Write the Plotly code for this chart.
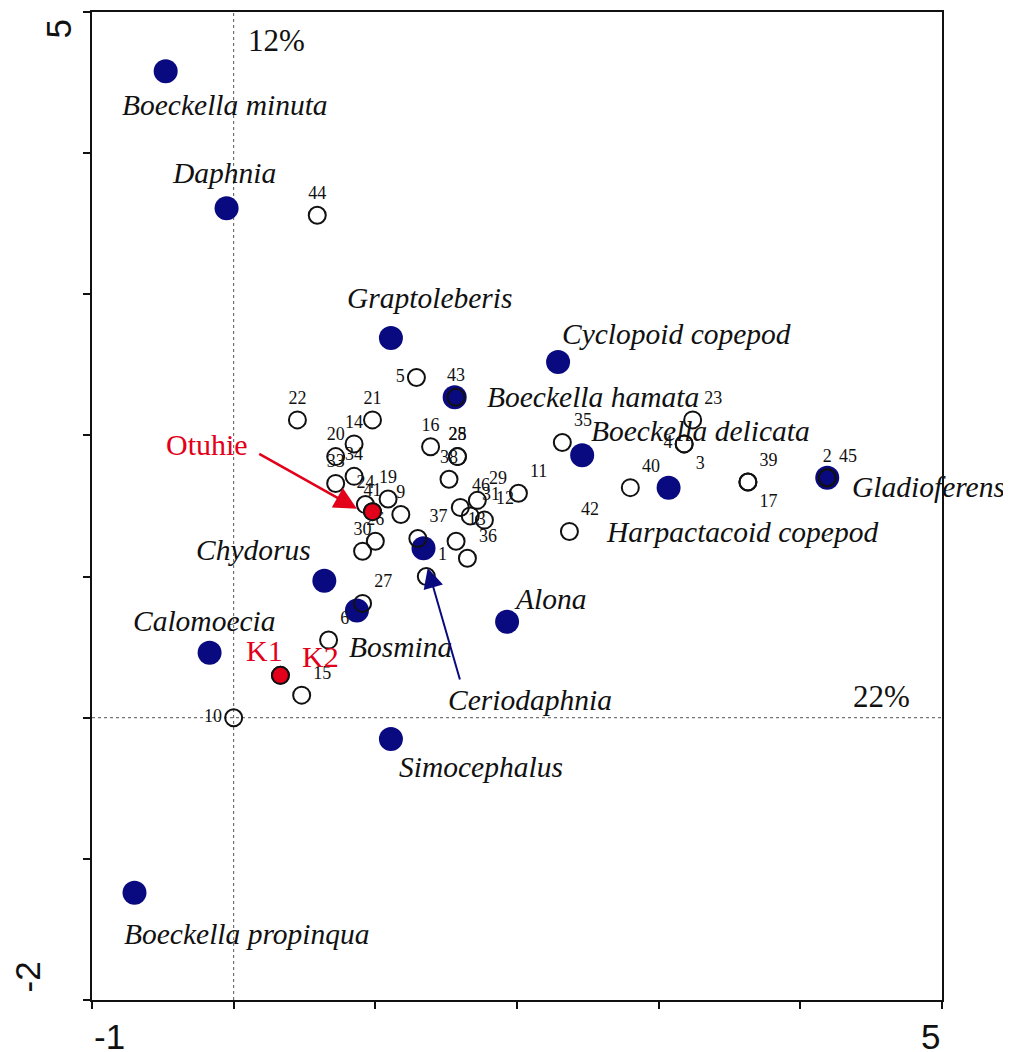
import plotly.graph_objects as go

# ---------------- data ----------------
species_names = ["Boeckella minuta", "Daphnia", "Graptoleberis", "Cyclopoid copepod",
                 "Boeckella hamata", "Boeckella delicata", "Harpactacoid copepod",
                 "Gladioferens", "Ceriodaphnia", "Chydorus", "Bosmina", "Alona",
                 "Calomoecia", "Simocephalus", "Boeckella propinqua"]
species_x = [-0.48, -0.05, 1.11, 2.29, 1.56, 2.46, 3.07, 4.19, 1.34, 0.64, 0.87, 1.93, -0.17, 1.11, -0.70]
species_y = [4.58, 3.61, 2.69, 2.52, 2.27, 1.86, 1.63, 1.70, 1.20, 0.97, 0.76, 0.68, 0.46, -0.15, -1.24]

site_labels = ["1", "2", "3", "4", "5", "6", "9", "10", "11", "12", "13", "14", "15", "16",
               "17", "19", "20", "21", "22", "23", "24", "25", "26", "27", "28", "29", "30",
               "31", "33", "34", "35", "36", "37", "38", "39", "40", "41", "42", "43", "44",
               "45", "46"]
site_x = [1.36, 4.19, 3.18, 3.18, 1.29, 0.67, 1.18, 0.00, 2.01, 1.77, 1.57, 0.85, 0.48, 1.39,
          3.63, 1.09, 0.72, 0.98, 0.45, 3.24, 0.93, 1.58, 1.00, 0.91, 1.58, 1.72, 0.91,
          1.67, 0.72, 0.85, 2.32, 1.65, 1.30, 1.52, 3.63, 2.80, 0.98, 2.37, 1.57, 0.59,
          4.19, 1.60]
site_y = [1.00, 1.70, 1.94, 1.94, 2.41, 0.55, 1.44, 0.00, 1.59, 1.40, 1.25, 1.94, 0.16, 1.92,
          1.67, 1.55, 1.85, 2.11, 2.11, 2.11, 1.51, 1.85, 1.25, 0.81, 1.85, 1.54, 1.18,
          1.43, 1.66, 1.71, 1.95, 1.13, 1.27, 1.69, 1.67, 1.63, 1.46, 1.32, 2.27, 3.56,
          1.70, 1.49]

highlight_names = ["Otuhie", "K1", "K2"]
highlight_x = [0.98, 0.33, 0.33]
highlight_y = [1.46, 0.30, 0.30]

axis_pct = {"x": "22%", "y": "12%"}
x_tick_labels = ["-1", "5"]
y_tick_labels = ["5", "-2"]

# ---------------- styles ----------------
NAVY = "#0a0a80"
RED = "#e2001a"
SERIF = "Liberation Serif"
SANS = "Liberation Sans"

pos_right = {"1", "6", "11", "12", "13", "15", "23", "27", "29", "31", "35", "36", "37",
             "39", "40", "42", "45", "46"}
pos_left = {"4", "5", "10"}
pos_below_right = {"3", "17"}


def site_pos(lbl):
    if lbl in pos_right:
        return "top right"
    if lbl in pos_left:
        return "middle left"
    if lbl in pos_below_right:
        return "bottom right"
    return "top center"


# label offsets in pixels (dx, dy up) for species names
species_offsets = {
    "Boeckella minuta": (59, -34), "Daphnia": (-3, 35), "Graptoleberis": (39, 40),
    "Cyclopoid copepod": (118, 28), "Boeckella hamata": (138, 0),
    "Boeckella delicata": (118, 24), "Harpactacoid copepod": (73, -44),
    "Gladioferens": (101, -9), "Ceriodaphnia": (106, -152), "Chydorus": (-71, 31),
    "Bosmina": (44, -37), "Alona": (43, 23), "Calomoecia": (-5, 32),
    "Simocephalus": (90, -28), "Boeckella propinqua": (112, -41),
}
highlight_offsets = {"Otuhie": (-166, 67), "K1": (-16, 25), "K2": (40, 19)}

fig = go.Figure()

fig.add_trace(go.Scatter(
    x=species_x, y=species_y, mode="markers",
    marker=dict(size=24, color=NAVY, line=dict(width=0)),
    hovertext=species_names, showlegend=False))

fig.add_trace(go.Scatter(
    x=site_x, y=site_y, mode="markers+text", text=site_labels,
    textposition=[site_pos(s) for s in site_labels],
    textfont=dict(family=SERIF, size=18, color="#111111"),
    marker=dict(size=17, symbol="circle-open", color="#111111", line=dict(width=2)),
    showlegend=False))

fig.add_trace(go.Scatter(
    x=highlight_x, y=highlight_y, mode="markers",
    marker=dict(size=17, color=RED, line=dict(width=2, color="#111111")),
    hovertext=highlight_names, showlegend=False))

annotations = []
for name, x, y in zip(species_names, species_x, species_y):
    dx, dy = species_offsets[name]
    annotations.append(dict(x=x, y=y, xref="x", yref="y", text=name, showarrow=False,
                            xshift=dx, yshift=dy, xanchor="center", yanchor="middle",
                            font=dict(family=SERIF, size=29.5, style="italic", color="#111111")))
for name, x, y in zip(highlight_names, highlight_x, highlight_y):
    dx, dy = highlight_offsets[name]
    annotations.append(dict(x=x, y=y, xref="x", yref="y", text=name, showarrow=False,
                            xshift=dx, yshift=dy, xanchor="center", yanchor="middle",
                            font=dict(family=SERIF, size=30, color=RED)))

# arrows
annotations.append(dict(x=0.87, y=1.48, ax=0.17, ay=1.875, xref="x", yref="y",
                        axref="x", ayref="y", text="", showarrow=True, arrowhead=2,
                        arrowsize=1.8, arrowwidth=2.5, arrowcolor=RED, standoff=0))
annotations.append(dict(x=1.37, y=1.06, ax=1.60, ay=0.26, xref="x", yref="y",
                        axref="x", ayref="y", text="", showarrow=True, arrowhead=2,
                        arrowsize=2.0, arrowwidth=2, arrowcolor=NAVY, standoff=0))

# percentage labels
annotations.append(dict(x=0.2176, y=0.9707, xref="paper", yref="paper", text=axis_pct["y"],
                        showarrow=False, xanchor="center", yanchor="middle",
                        font=dict(family=SERIF, size=31, color="#111111")))
annotations.append(dict(x=0.929, y=0.307, xref="paper", yref="paper", text=axis_pct["x"],
                        showarrow=False, xanchor="center", yanchor="middle",
                        font=dict(family=SERIF, size=31, color="#111111")))

# axis end labels
tick_font = dict(family=SANS, size=35, color="#111111")
annotations.append(dict(x=-1, y=0, xref="x", yref="paper", text=x_tick_labels[0],
                        showarrow=False, xanchor="left", yanchor="top", yshift=-17,
                        height=34, valign="middle", font=tick_font))
annotations.append(dict(x=5, y=0, xref="x", yref="paper", text=x_tick_labels[1],
                        showarrow=False, xanchor="right", yanchor="top", yshift=-17,
                        height=34, valign="middle", font=tick_font))
annotations.append(dict(x=0, y=5, xref="paper", yref="y", text=y_tick_labels[0],
                        showarrow=False, textangle=-90, xanchor="center", yanchor="top",
                        xshift=-34, yshift=-6, font=tick_font))
annotations.append(dict(x=0, y=-2, xref="paper", yref="y", text=y_tick_labels[1],
                        showarrow=False, textangle=-90, xanchor="center", yanchor="bottom",
                        xshift=-65, yshift=5, font=tick_font))

shapes = [
    dict(type="line", x0=0, x1=0, y0=-2, y1=5, xref="x", yref="y",
         line=dict(color="#555555", width=1, dash="dot"), layer="below"),
    dict(type="line", x0=-1, x1=5, y0=0, y1=0, xref="x", yref="y",
         line=dict(color="#555555", width=1, dash="dot"), layer="below"),
]

# the page adds an 8px body margin, so the figure is 8px smaller and shifted margins
fig.update_layout(
    width=1003, height=1044,
    margin=dict(l=84, r=69, t=2, b=52),
    paper_bgcolor="white", plot_bgcolor="white",
    showlegend=False,
    annotations=annotations, shapes=shapes,
    xaxis=dict(range=[-1, 5], tickvals=[-1, 0, 1, 2, 3, 4, 5], showticklabels=False,
               ticks="outside", ticklen=7, tickwidth=2, tickcolor="#111111",
               showline=True, linecolor="#111111", linewidth=2, mirror=True,
               showgrid=False, zeroline=False),
    yaxis=dict(range=[-2, 5], tickvals=[-2, -1, 0, 1, 2, 3, 4, 5], showticklabels=False,
               ticks="outside", ticklen=7, tickwidth=2, tickcolor="#111111",
               showline=True, linecolor="#111111", linewidth=2, mirror=True,
               showgrid=False, zeroline=False),
)

fig.write_html("out.html")
